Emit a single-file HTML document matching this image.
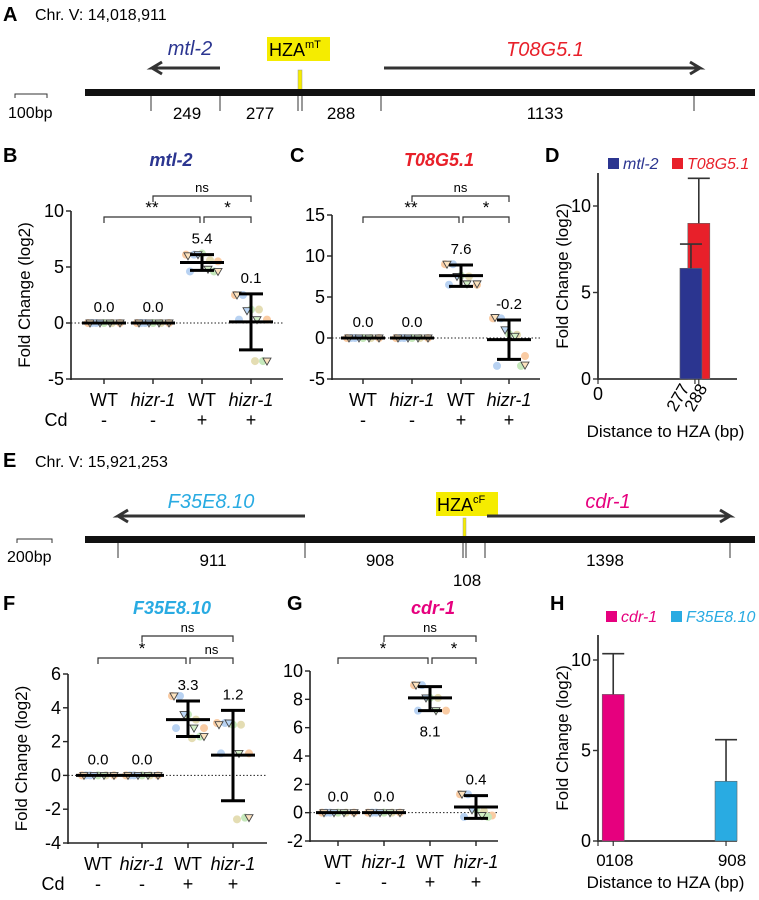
<!DOCTYPE html>
<html><head><meta charset="utf-8"><style>
html,body{margin:0;padding:0;background:#fff;}
svg{display:block;font-family:"Liberation Sans",Arial,sans-serif;}
</style></head><body>
<svg id="fig" width="759" height="900" viewBox="0 0 759 900" xmlns="http://www.w3.org/2000/svg">
<!-- Panel A -->
<g>
<text x="3" y="21" font-size="20" font-weight="bold">A</text>
<text x="35" y="20" font-size="16">Chr. V: 14,018,911</text>
<text x="190" y="55" font-size="20" font-style="italic" fill="#2b3590" text-anchor="middle">mtl-2</text>
<path d="M220 68 H152 L162 62 M152 68 L162 74" stroke="#333" stroke-width="3" fill="none"/>
<rect x="267" y="37" width="63" height="24" fill="#f5ec00"/>
<text x="269" y="56" font-size="18">HZA<tspan font-size="11" dy="-8">mT</tspan></text>
<rect x="298" y="70" width="4" height="20" fill="#f5ec00" stroke="#999" stroke-width="0.5"/>
<text x="545" y="56" font-size="20" font-style="italic" fill="#e8202a" text-anchor="middle">T08G5.1</text>
<path d="M384 68 H700 L690 62 M700 68 L690 74" stroke="#333" stroke-width="3" fill="none"/>
<rect x="85" y="89" width="670" height="7" fill="#111"/>
<path d="M15 98 V94 H47 V98" stroke="#333" fill="none"/>
<text x="8" y="118" font-size="16">100bp</text>
<path d="M151 96V111 M220 96V111 M298 96V111 M302 96V111 M381 96V111 M694 96V111" stroke="#333"/>
<g font-size="17" text-anchor="middle">
<text x="187" y="119">249</text><text x="260" y="119">277</text><text x="341" y="119">288</text><text x="545" y="119">1133</text></g>
</g>
<!-- Panel E -->
<g>
<text x="3" y="467" font-size="20" font-weight="bold">E</text>
<text x="35" y="467" font-size="16">Chr. V: 15,921,253</text>
<text x="211" y="508" font-size="20" font-style="italic" fill="#29abe2" text-anchor="middle">F35E8.10</text>
<path d="M305 516 H118 L128 510 M118 516 L128 522" stroke="#333" stroke-width="3" fill="none"/>
<rect x="436" y="492" width="62" height="24" fill="#f5ec00"/>
<text x="437" y="511" font-size="18">HZA<tspan font-size="11" dy="-8">cF</tspan></text>
<rect x="463" y="518" width="3" height="20" fill="#f5ec00" stroke="#999" stroke-width="0.5"/>
<text x="608" y="508" font-size="20" font-style="italic" fill="#e6007e" text-anchor="middle">cdr-1</text>
<path d="M487 516 H730 L720 510 M730 516 L720 522" stroke="#333" stroke-width="3" fill="none"/>
<rect x="85" y="536" width="670" height="7" fill="#111"/>
<path d="M17 543 V539 H52 V543" stroke="#333" fill="none"/>
<text x="7" y="562" font-size="16">200bp</text>
<path d="M118 543V558 M305 543V558 M463 543V558 M466 543V558 M485 543V558 M730 543V558" stroke="#333"/>
<g font-size="17" text-anchor="middle">
<text x="213" y="566">911</text><text x="380" y="566">908</text><text x="605" y="566">1398</text><text x="467" y="586">108</text></g>
</g>
<g id="plots"></g>
</svg>
<script>
// ---- data: panel B (mtl-2) ----
const catLabels = ["WT","hizr-1","WT","hizr-1"];
const catItalic = [false,true,false,true];
const cdLabels = ["-","-","+","+"];
const meanB = [0.0, 0.0, 5.4, 0.1];
const lowB = [0, 0, 4.7, -2.4];
const highB = [0, 0, 6.1, 2.6];
const circB = [[0,0,0,0,0,0],[0,0,0,0,0,0],[6.1,6.1,6.2,5.6,5.5,4.6,4.6],[2.5,2.5,1.2,1.2,0.3,0.3,-3.4,-3.4]];
const triB = [[0,0,0,0],[0,0,0,0],[6.0,6.1,4.8,4.6],[2.5,1.1,0.3,-3.4]];
const ticksB = [-5,0,5,10];
// ---- panel C (T08G5.1) ----
const meanC = [0.0, 0.0, 7.6, -0.2];
const lowC = [0, 0, 6.3, -2.6];
const highC = [0, 0, 8.9, 2.2];
const circC = [[0,0,0,0,0,0],[0,0,0,0,0,0],[9.0,9.0,7.6,7.5,6.5,6.5],[2.4,2.4,0.5,0.4,-2.2,-3.4,-3.4]];
const triC = [[0,0,0,0],[0,0,0,0],[9.0,7.5,6.6,6.6],[2.5,1.0,0.2,-3.3]];
const ticksC = [-5,0,5,10,15];
// ---- panel F (F35E8.10) ----
const meanF = [0.0, 0.0, 3.3, 1.2];
const lowF = [0, 0, 2.3, -1.5];
const highF = [0, 0, 4.4, 3.85];
const circF = [[0,0,0,0,0,0],[0,0,0,0,0,0],[4.7,4.7,3.6,3.3,2.8,2.8,2.3,2.2],[3.1,3.1,3.0,3.0,1.3,1.3,-2.5,-2.6]];
const triF = [[0,0,0,0],[0,0,0,0],[4.7,3.6,2.8,2.3],[3.0,3.1,1.3,-2.5]];
const ticksF = [-4,-2,0,2,4,6];
// ---- panel G (cdr-1) ----
const meanG = [0.0, 0.0, 8.1, 0.4];
const lowG = [0, 0, 7.2, -0.4];
const highG = [0, 0, 8.9, 1.2];
const circG = [[0,0,0,0,0,0],[0,0,0,0,0,0],[9.0,9.0,8.1,8.1,7.2,7.2],[1.3,1.3,0.2,0.1,-0.2,-0.3,-0.3]];
const triG = [[0,0,0,0],[0,0,0,0],[9.0,8.1,7.2],[1.3,0.2,-0.2]];
const ticksG = [-2,0,2,4,6,8,10];
// ---- panel D bars ----
const distD = [277, 288];
const valD = [6.4, 9.0];
const errD = [7.8, 11.6];
const ticksD = [0,5,10];
const xLabelsD = ["0","277","288"];
const xTickValsD = [0,277,288];
// ---- panel H bars ----
const distH = [108, 908];
const valH = [8.1, 3.3];
const errH = [10.35, 5.6];
const ticksH = [0,5,10];

const NS = "http://www.w3.org/2000/svg";
const root = document.getElementById('plots');
function el(tag, attrs, parent, txt){
  const e = document.createElementNS(NS, tag);
  for (const k in attrs) e.setAttribute(k, attrs[k]);
  if (txt !== undefined) e.textContent = txt;
  (parent||root).appendChild(e);
  return e;
}
const ccol = ["#f9cba3","#b8d2f2","#c5e8bb","#e4ddb3"];
const tcol = ["#fde3bf","#bcd8f7","#d3f0c6"];

function dotPlot(cfg){
  const g = el('g', {});
  
  
  const ys = v => cfg.y0 + (v - cfg.yMin) * (cfg.y1 - cfg.y0) / (cfg.yMax - cfg.yMin);
  const axTop = ys(cfg.ticks[cfg.ticks.length-1]);
  const ya = el('line', {x1:cfg.ax, x2:cfg.ax, y1:axTop, y2:cfg.y0+1, stroke:'#222','stroke-width':1.6}, g);
  
  
  const xa = el('line', {x1:cfg.ax, x2:cfg.xEnd, y1:cfg.y0, y2:cfg.y0, stroke:'#222','stroke-width':1.6}, g);
  
  
  cfg.ticks.forEach(t => {
    el('line', {x1:cfg.ax-5, x2:cfg.ax, y1:ys(t), y2:ys(t), stroke:'#222','stroke-width':1.4}, g);
    const tl = el('text', {x:cfg.ax-7, y:ys(t)+6, 'font-size':18, 'text-anchor':'end'}, g, String(t));
    
    
  });
  const zl = el('line', {x1:cfg.ax, x2:cfg.xEnd, y1:ys(0), y2:ys(0), stroke:'#222','stroke-width':1,'stroke-dasharray':'1.5,2'}, g);
  
  
  cfg.cats.forEach((cx, i) => {
    el('line', {x1:cx, x2:cx, y1:cfg.y0, y2:cfg.y0+5, stroke:'#222','stroke-width':1.4}, g);
    const cl = el('text', {x:cx, y:cfg.y0+27, 'font-size':18, 'text-anchor':'middle', 'font-style':catItalic[i]?'italic':'normal'}, g, catLabels[i]);
    
    
    const cd = el('text', {x:cx, y:cfg.y0+47, 'font-size':18, 'text-anchor':'middle'}, g, cdLabels[i]);
    
    
    const offs = [-16,-8,0,8,16,-12,12,4];
    cfg.circ[i].forEach((v, j) => {
      const c = el('circle', {cx:cx+offs[j%offs.length], cy:ys(v), r:4, fill:ccol[j%4]}, g);
      
      
    });
    const toffs = [-14,-4,6,16];
    cfg.tri[i].forEach((v, j) => {
      const tx = cx + toffs[j%4], ty = ys(v);
      const p = el('path', {d:`M${tx-4} ${ty-3} H${tx+4} L${tx} ${ty+4} Z`, fill:tcol[j%3], stroke:'#444','stroke-width':0.9}, g);
      
      
    });
    const m = el('line', {x1:cx-22, x2:cx+22, y1:ys(cfg.mean[i]), y2:ys(cfg.mean[i]), stroke:'#000','stroke-width':3}, g);
    
    
    if (cfg.high[i] !== cfg.low[i]) {
      const e = el('path', {d:`M${cx} ${ys(cfg.low[i])} V${ys(cfg.high[i])} M${cx-12} ${ys(cfg.low[i])} H${cx+12} M${cx-12} ${ys(cfg.high[i])} H${cx+12}`, stroke:'#000','stroke-width':3, fill:'none'}, g);
      
      
    }
    const below = cfg.below && cfg.below[i];
    const ly = below ? ys(cfg.low[i]) + 26 : ys(cfg.high[i]) - 11;
    const vl = el('text', {x:cx, y:ly, 'font-size':15, 'text-anchor':'middle'}, g, cfg.mean[i].toFixed(1));
    
    
  });
  if (cfg.cdLabel) {
    const c = el('text', {x:cfg.ax-15, y:cfg.y0+47, 'font-size':18, 'text-anchor':'middle'}, g, cfg.cdLabel);
    
    
  }
  cfg.brackets.forEach(b => {
    const xa1 = cfg.cats[b[0]] + (b[3]||0), xa2 = cfg.cats[b[1]] + (b[4]||0);
    const p = el('path', {d:`M${xa1} ${b[2]+6} V${b[2]} H${xa2} V${b[2]+6}`, stroke:'#333','stroke-width':1.2, fill:'none'}, g);
    
    
    const t = el('text', {x:(xa1+xa2)/2, y:b[2]-4, 'font-size':b[5]==='ns'?13:17, 'text-anchor':'middle'}, g, b[5]);
    
    
  });
  const tt = el('text', {x:cfg.titleX, y:cfg.titleY+4, 'font-size':18, 'font-weight':'bold', 'font-style':'italic', fill:cfg.color, 'text-anchor':'middle'}, g, cfg.title);
  
  
  const pl = el('text', {x:cfg.labelX, y:cfg.titleY, 'font-size':20, 'font-weight':'bold'}, g, cfg.panel);
  
  
  if (cfg.yTitle) {
    const cy = (axTop + cfg.y0)/2;
    const yt = el('text', {x:0, y:0, 'font-size':17, 'text-anchor':'middle', transform:`translate(${cfg.ax-41},${cy}) rotate(-90)`}, g, 'Fold Change (log2)');
    
    
  }
}

dotPlot({name:'panel-b-mtl-2', panel:'B', labelX:3, title:'mtl-2', titleX:171, titleY:162, color:'#2b3590',
  ax:71, xEnd:283, y0:379, y1:211, yMin:-5, yMax:10, ticks:ticksB, cats:[104,153,202,251],
  mean:meanB, low:lowB, high:highB, circ:circB, tri:triB, yTitle:true, cdLabel:'Cd',
  brackets:[[0,2,217,0,-2,'**'],[2,3,217,2,0,'*'],[1,3,196,0,0,'ns']]});
dotPlot({name:'panel-c-t08g5-1', panel:'C', labelX:290, title:'T08G5.1', titleX:439, titleY:162, color:'#e8202a',
  ax:332, xEnd:540, y0:379, y1:215, yMin:-5, yMax:15, ticks:ticksC, cats:[363,412,461,509],
  mean:meanC, low:lowC, high:highC, circ:circC, tri:triC, yTitle:false,
  brackets:[[0,2,217,0,-2,'**'],[2,3,217,2,0,'*'],[1,3,196,0,0,'ns']]});
dotPlot({name:'panel-f-f35e8-10', panel:'F', labelX:3, title:'F35E8.10', titleX:172, titleY:610, color:'#29abe2',
  ax:68, xEnd:267, y0:843, y1:674, yMin:-4, yMax:6, ticks:ticksF, cats:[98,142,188,233],
  mean:meanF, low:lowF, high:highF, circ:circF, tri:triF, yTitle:true, cdLabel:'Cd',
  brackets:[[0,2,658,0,-2,'*'],[2,3,658,2,0,'ns'],[1,3,636,0,0,'ns']]});
dotPlot({name:'panel-g-cdr-1', panel:'G', labelX:287, title:'cdr-1', titleX:433, titleY:610, color:'#e6007e',
  ax:310, xEnd:498, y0:841, y1:671, yMin:-2, yMax:10, ticks:ticksG, cats:[338,384,430,476],
  mean:meanG, low:lowG, high:highG, circ:circG, tri:triG, yTitle:false, below:[false,false,true,false],
  brackets:[[0,2,658,0,-2,'*'],[2,3,658,2,0,'*'],[1,3,636,0,0,'ns']]});

function barPlot(cfg){
  const g = el('g', {});
  
  
  const ys = v => cfg.y0 - v * cfg.ppu;
  const xs = d => cfg.ax + cfg.xOff + d * cfg.ppx;
  const ya = el('line', {x1:cfg.ax, x2:cfg.ax, y1:cfg.axTop, y2:cfg.y0+1, stroke:'#333','stroke-width':1.8}, g);
  
  
  const xa = el('line', {x1:cfg.ax, x2:cfg.xEnd, y1:cfg.y0, y2:cfg.y0, stroke:'#333','stroke-width':1.8}, g);
  
  
  cfg.ticks.forEach(t => {
    el('line', {x1:cfg.ax-5, x2:cfg.ax, y1:ys(t), y2:ys(t), stroke:'#333','stroke-width':1.4}, g);
    const tl = el('text', {x:cfg.ax-7, y:ys(t)+6, 'font-size':18, 'text-anchor':'end'}, g, String(t));
    
    
  });
  const order = cfg.drawOrder || cfg.dist.map((_, i) => i);
  order.forEach(i => {
    const d = cfg.dist[i];
    const cx = xs(d) + (cfg.barShift ? cfg.barShift[i] : 0);
    const r = el('rect', {x:cx-11, y:ys(cfg.val[i]), width:22, height:cfg.val[i]*cfg.ppu, fill:cfg.colors[i], stroke:'#666','stroke-width':0.6}, g);
    
    
    const e = el('path', {d:`M${cx} ${ys(cfg.val[i])} V${ys(cfg.err[i])} M${cx-11} ${ys(cfg.err[i])} H${cx+11}`, stroke:'#333','stroke-width':1.6, fill:'none'}, g);
    
    
  });
  cfg.genes.forEach((gn, i) => {
    const lx = cfg.legX[i];
    const s = el('rect', {x:lx, y:cfg.legY-11, width:11, height:11, fill:cfg.legColors[i]}, g);
    
    
    const t = el('text', {x:lx+15, y:cfg.legY, 'font-size':16, 'font-style':'italic', fill:cfg.legColors[i]}, g, cfg.legText[i]);
    
    
  });
  const yt = el('text', {x:0, y:0, 'font-size':17, 'text-anchor':'middle', transform:`translate(${cfg.ax-30},${(cfg.axTop+cfg.y0)/2}) rotate(-90)`}, g, 'Fold Change (log2)');
  
  
  const xt = el('text', {x:(cfg.ax+cfg.xEnd)/2 - 2, y:cfg.xTitleY, 'font-size':17, 'text-anchor':'middle'}, g, 'Distance to HZA (bp)');
  
  
  const pl = el('text', {x:cfg.labelX, y:cfg.labelY, 'font-size':20, 'font-weight':'bold'}, g, cfg.panel);
  
  
  cfg.xlab(g, xs);
}

barPlot({name:'panel-d-distance-bars', panel:'D', ax:598, xEnd:737, xOff:0, ppx:0.35, y0:379, ppu:17.3, axTop:173,
  ticks:ticksD, dist:distD, val:valD, err:errD, colors:['#2b3590','#e8202a'], genes:['mtl-2','t08g5-1'],
  drawOrder:[1,0], labelX:545, labelY:162,
  legX:[608,672], legY:169, legColors:['#2b3590','#e8202a'], legText:['mtl-2','T08G5.1'], xTitleY:437,
  barShift:[-4,0],
  xlab:(g, xs) => {
    const sh = [0,-5,9];
    xTickValsD.forEach((d, i) => {
      el('line', {x1:xs(d), x2:xs(d), y1:379, y2:384, stroke:'#333','stroke-width':1.2}, g);
      const t = i === 0
        ? el('text', {x:xs(d), y:400, 'font-size':18, 'text-anchor':'middle'}, g, xLabelsD[i])
        : el('text', {x:0, y:0, 'font-size':17, 'text-anchor':'end', transform:`translate(${xs(d)+sh[i]},388) rotate(-60)`}, g, xLabelsD[i]);
      
      
    });
  }});
barPlot({name:'panel-h-distance-bars', panel:'H', ax:598, xEnd:737, xOff:0, ppx:0.141, y0:841, ppu:18.1, axTop:635,
  ticks:ticksH, dist:distH, val:valH, err:errH, colors:['#e6007e','#29abe2'], genes:['cdr-1','f35e8-10'],
  labelX:550, labelY:610,
  legX:[606,671], legY:622, legColors:['#e6007e','#29abe2'], legText:['cdr-1','F35E8.10'], xTitleY:888,
  xlab:(g, xs) => {
    [0,108,908].forEach(p => {
      el('line', {x1:xs(p), x2:xs(p), y1:841, y2:846, stroke:'#333','stroke-width':1.2}, g);
    });
    const a = el('text', {x:xs(0)+3, y:866, 'font-size':17, 'text-anchor':'middle'}, g, '0');
    
    
    distH.forEach(d => {
      const t = el('text', {x:xs(d)+6, y:866, 'font-size':17, 'text-anchor':'middle'}, g, String(d));
      
      
    });
  }});
</script>
</body></html>
